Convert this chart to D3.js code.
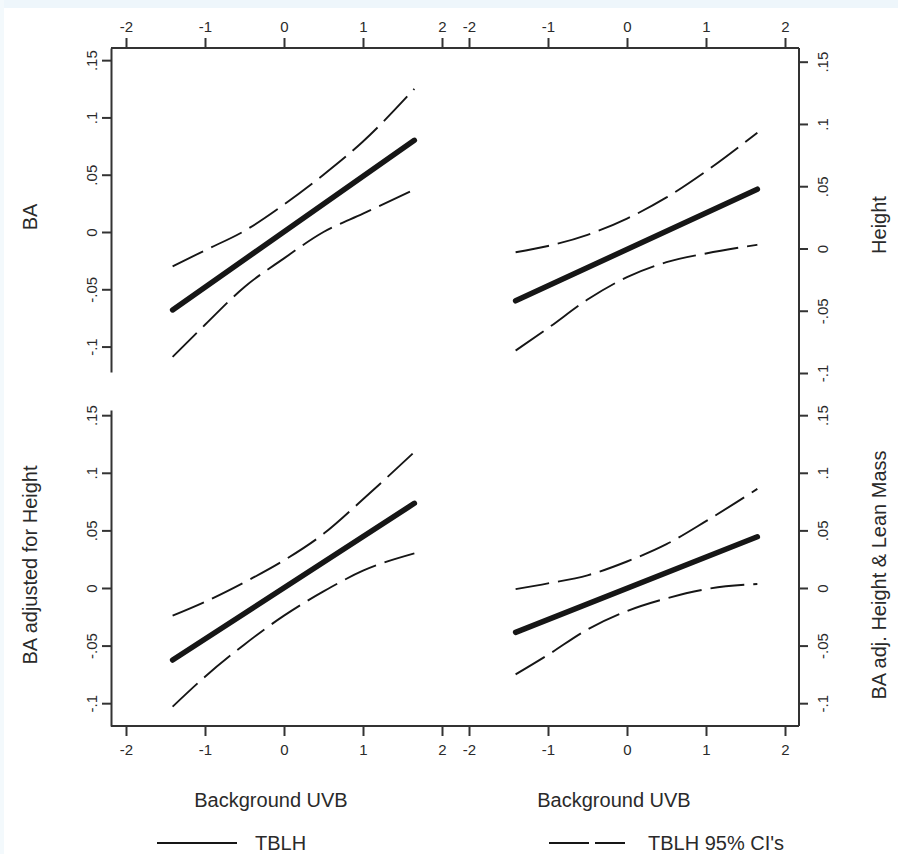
<!DOCTYPE html>
<html>
<head>
<meta charset="utf-8">
<script src="https://cdn.jsdelivr.net/npm/d3@7/dist/d3.min.js"></script>
<style>
  html, body { margin: 0; padding: 0; background: #ffffff; }
  svg { display: block; }
  text { font-family: "Liberation Sans", Arial, Helvetica, sans-serif; fill: #2a2a2a; }
</style>
</head>
<body>
<svg id="chart" width="898" height="854"></svg>
<script>
// Background UVB (standardised) on the x axis
const xTicks = [-2, -1, 0, 1, 2];
const yTicks = [-0.1, -0.05, 0, 0.05, 0.1, 0.15];
const yTickLabels = ["-.1", "-.05", "0", ".05", ".1", ".15"];

// Straight-line estimate end points
const estX = [-1.41, 1.65];
// Points at which the 95% CI bands were read
const ciX = [-1.41, -1, -0.5, 0, 0.5, 1, 1.65];

// Panel: BA
const baEst = [-0.068, 0.080];
const baUpper = [-0.030, -0.016, 0.001, 0.024, 0.050, 0.079, 0.125];
const baLower = [-0.109, -0.081, -0.048, -0.023, 0.000, 0.016, 0.037];

// Panel: Height
const heightEst = [-0.042, 0.0476];
const heightUpper = [-0.003, 0.002, 0.011, 0.024, 0.041, 0.062, 0.093];
const heightLower = [-0.082, -0.064, -0.041, -0.023, -0.011, -0.004, 0.003];

// Panel: BA adjusted for Height
const baAdjEst = [-0.0625, 0.0735];
const baAdjUpper = [-0.024, -0.012, 0.005, 0.024, 0.047, 0.077, 0.118];
const baAdjLower = [-0.103, -0.077, -0.049, -0.024, -0.003, 0.015, 0.030];

// Panel: BA adj. Height & Lean Mass
const baLmEst = [-0.0385, 0.0445];
const baLmUpper = [-0.001, 0.004, 0.011, 0.023, 0.038, 0.058, 0.086];
const baLmLower = [-0.075, -0.058, -0.036, -0.020, -0.009, -0.001, 0.0035];

const svg = d3.select("#chart");

// faint page edge
svg.append("rect").attr("x", 0).attr("y", 0).attr("width", 898).attr("height", 8).attr("fill", "#eef6fb");
svg.append("rect").attr("x", 0).attr("y", 0).attr("width", 4).attr("height", 854).attr("fill", "#f3f9fc");

const frame = { left: 111, right: 799, top: 48, bottom: 726 };

// x scales for the two columns
const xLeft = d3.scaleLinear().domain([-2, 2]).range([126, 442]);
const xRight = d3.scaleLinear().domain([-2, 2]).range([469, 785]);

// y scales for the four panels
const yTL = d3.scaleLinear().domain([-0.1222, 0.1606]).range([372, 48]);
const yTR = d3.scaleLinear().domain([-0.1, 0.161]).range([373, 48]);
const yBL = d3.scaleLinear().domain([-0.1198, 0.1545]).range([726, 410]);
const yBR = d3.scaleLinear().domain([-0.1198, 0.1545]).range([726, 410]);

const AXIS_COLOR = "#333333";
const LINE_COLOR = "#161616";

function styleAxis(g) {
  g.selectAll("line").attr("stroke", AXIS_COLOR).attr("stroke-width", 2);
  g.selectAll("path.domain").attr("stroke", AXIS_COLOR).attr("stroke-width", 2);
  g.selectAll("text").attr("font-size", 15).attr("fill", "#2a2a2a");
}

// frame lines
const frameLine = d3.line();
svg.append("path")
  .attr("d", frameLine([[frame.left, frame.top], [frame.right, frame.top]]))
  .attr("stroke", AXIS_COLOR).attr("stroke-width", 2).attr("fill", "none");
svg.append("path")
  .attr("d", frameLine([[frame.left, frame.bottom], [frame.right, frame.bottom]]))
  .attr("stroke", AXIS_COLOR).attr("stroke-width", 2).attr("fill", "none");
svg.append("path")
  .attr("d", frameLine([[frame.right, frame.top], [frame.right, frame.bottom]]))
  .attr("stroke", AXIS_COLOR).attr("stroke-width", 2).attr("fill", "none");

// top and bottom x axes
[xLeft, xRight].forEach(xs => {
  const top = svg.append("g").attr("transform", `translate(0,${frame.top})`)
    .call(d3.axisTop(xs).tickValues(xTicks).tickFormat(d3.format("d")).tickSize(10).tickSizeOuter(0).tickPadding(6));
  top.select(".domain").remove();
  styleAxis(top);
  const bottom = svg.append("g").attr("transform", `translate(0,${frame.bottom})`)
    .call(d3.axisBottom(xs).tickValues(xTicks).tickFormat(d3.format("d")).tickSize(10).tickSizeOuter(0).tickPadding(8));
  bottom.select(".domain").remove();
  styleAxis(bottom);
});
svg.selectAll("text").filter(function () { return this.textContent.indexOf("−") >= 0; })
  .text(function () { return this.textContent.replace("−", "-"); });

// left y axes (two segments with a break between the rows)
function leftAxis(ys) {
  const g = svg.append("g").attr("transform", `translate(${frame.left},0)`)
    .call(d3.axisLeft(ys).tickValues(yTicks).tickFormat((d, i) => yTickLabels[i]).tickSize(9).tickSizeOuter(0));
  styleAxis(g);
  g.selectAll(".tick text")
    .attr("x", null).attr("dy", null)
    .attr("transform", "translate(-20,0) rotate(-90)")
    .attr("text-anchor", "middle")
    .attr("dominant-baseline", "central");
}
leftAxis(yTL);
leftAxis(yBL);

// right y axes (the frame line carries the axis)
function rightAxis(ys) {
  const g = svg.append("g").attr("transform", `translate(${frame.right},0)`)
    .call(d3.axisRight(ys).tickValues(yTicks).tickFormat((d, i) => yTickLabels[i]).tickSize(9).tickSizeOuter(0));
  g.select(".domain").remove();
  styleAxis(g);
  g.selectAll(".tick text")
    .attr("x", null).attr("dy", null)
    .attr("transform", "translate(23,0) rotate(-90)")
    .attr("text-anchor", "middle")
    .attr("dominant-baseline", "central");
}
rightAxis(yTR);
rightAxis(yBR);

// panel curves
const panels = [
  { xs: xLeft, ys: yTL, est: baEst, up: baUpper, lo: baLower },
  { xs: xRight, ys: yTR, est: heightEst, up: heightUpper, lo: heightLower },
  { xs: xLeft, ys: yBL, est: baAdjEst, up: baAdjUpper, lo: baAdjLower },
  { xs: xRight, ys: yBR, est: baLmEst, up: baLmUpper, lo: baLmLower }
];

panels.forEach(p => {
  const ciLine = d3.line().x(d => p.xs(d[0])).y(d => p.ys(d[1])).curve(d3.curveMonotoneX);
  [p.up, p.lo].forEach(arr => {
    svg.append("path")
      .attr("d", ciLine(ciX.map((x, i) => [x, arr[i]])))
      .attr("fill", "none")
      .attr("stroke", LINE_COLOR)
      .attr("stroke-width", 1.9)
      .attr("stroke-dasharray", "34,9");
  });
  const estLine = d3.line().x(d => p.xs(d[0])).y(d => p.ys(d[1]));
  svg.append("path")
    .attr("d", estLine(estX.map((x, i) => [x, p.est[i]])))
    .attr("fill", "none")
    .attr("stroke", LINE_COLOR)
    .attr("stroke-width", 5.5)
    .attr("stroke-linecap", "round");
});

// axis titles
function vTitle(x, y, label) {
  svg.append("text")
    .attr("transform", `translate(${x},${y}) rotate(-90)`)
    .attr("text-anchor", "middle")
    .attr("dominant-baseline", "central")
    .attr("font-size", 20)
    .text(label);
}
vTitle(30, 217, "BA");
vTitle(30, 565, "BA adjusted for Height");
vTitle(879, 225, "Height");
vTitle(879, 575, "BA adj. Height & Lean Mass");

[[xLeft, "Background UVB"], [xRight, "Background UVB"]].forEach(([xs, label]) => {
  svg.append("text")
    .attr("x", xs(0) - 13).attr("y", 800)
    .attr("text-anchor", "middle")
    .attr("dominant-baseline", "central")
    .attr("font-size", 20)
    .text(label);
});

// legend
const legend = svg.append("g");
legend.append("path").attr("d", frameLine([[157, 843], [237, 843]]))
  .attr("stroke", LINE_COLOR).attr("stroke-width", 2);
legend.append("text").attr("x", 255).attr("y", 843).attr("dominant-baseline", "central")
  .attr("font-size", 20).text("TBLH");
legend.append("path").attr("d", frameLine([[549, 843], [625, 843]]))
  .attr("stroke", LINE_COLOR).attr("stroke-width", 2).attr("stroke-dasharray", "40,6");
legend.append("text").attr("x", 648).attr("y", 843).attr("dominant-baseline", "central")
  .attr("font-size", 20).text("TBLH 95% CI's");
</script>
</body>
</html>
